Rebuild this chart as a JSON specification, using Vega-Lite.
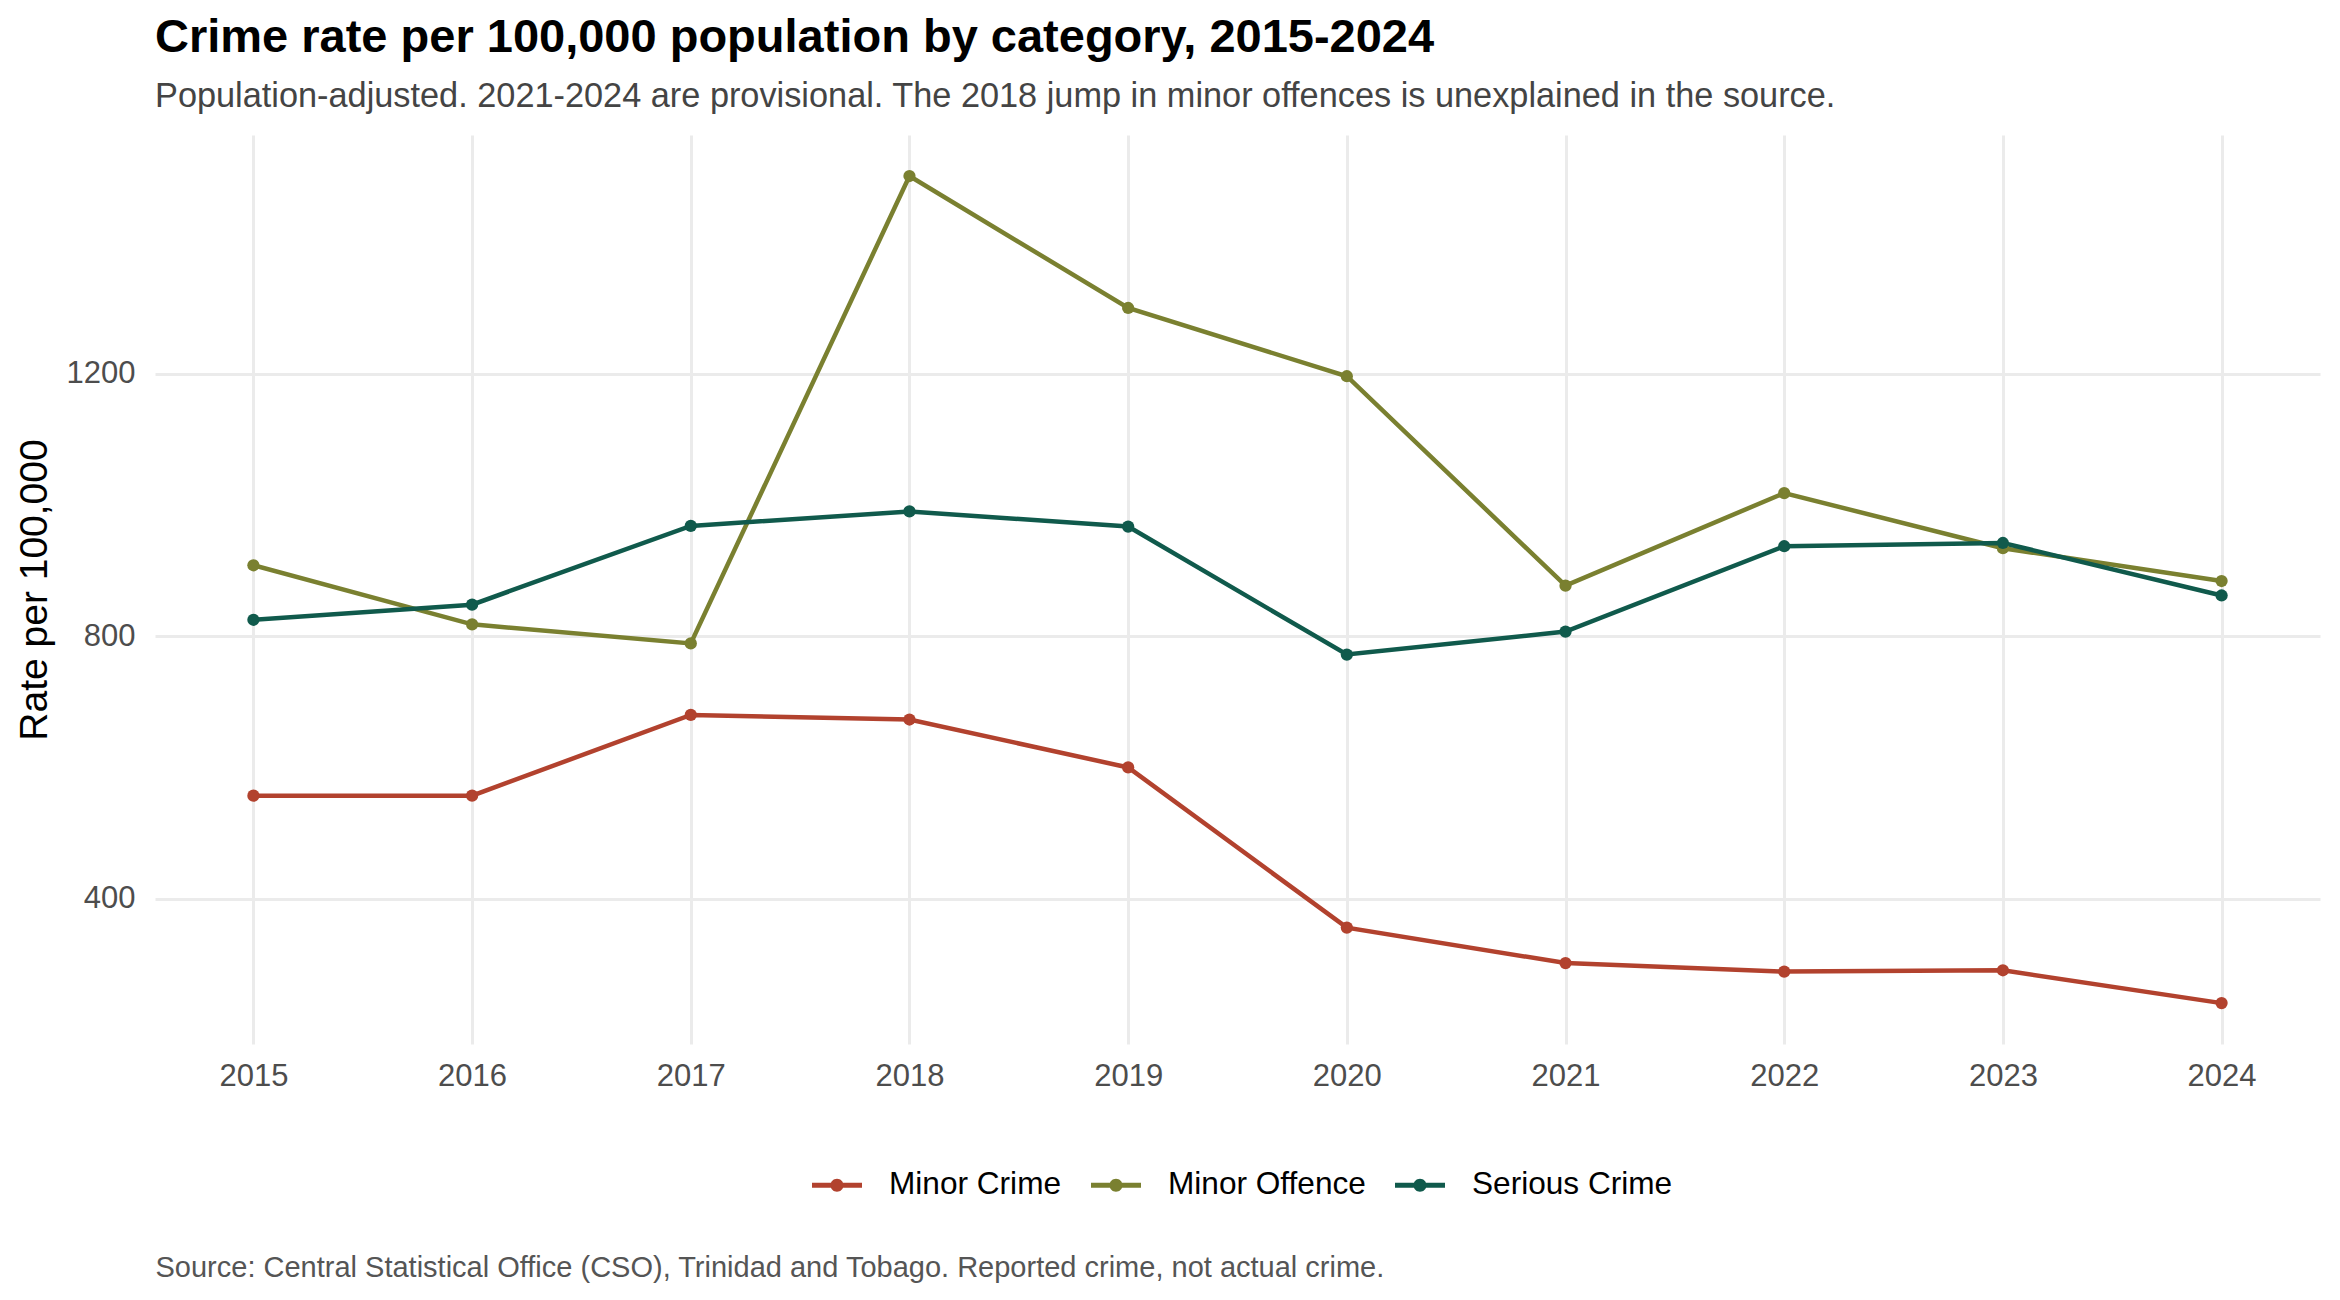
{
  "$schema": "https://vega.github.io/schema/vega-lite/v6.json",
  "width": 2165,
  "height": 909,
  "autosize": {"type": "none"},
  "padding": {"left": 155, "top": 135, "right": 20, "bottom": 256},
  "background": "white",
  "title": {
    "text": "Crime rate per 100,000 population by category, 2015-2024",
    "subtitle": "Population-adjusted. 2021-2024 are provisional. The 2018 jump in minor offences is unexplained in the source.",
    "anchor": "start",
    "frame": "group",
    "font": "Liberation Sans",
    "fontSize": 47,
    "fontWeight": "bold",
    "color": "#000000",
    "subtitleFont": "Liberation Sans",
    "subtitleFontSize": 34.3,
    "subtitleColor": "#444444",
    "subtitlePadding": 18,
    "offset": 20
  },
  "data": {
    "values": [
      {"year": 2015, "category": "Minor Crime", "rate": 557},
      {"year": 2016, "category": "Minor Crime", "rate": 557},
      {"year": 2017, "category": "Minor Crime", "rate": 680},
      {"year": 2018, "category": "Minor Crime", "rate": 673},
      {"year": 2019, "category": "Minor Crime", "rate": 600},
      {"year": 2020, "category": "Minor Crime", "rate": 356},
      {"year": 2021, "category": "Minor Crime", "rate": 302},
      {"year": 2022, "category": "Minor Crime", "rate": 289},
      {"year": 2023, "category": "Minor Crime", "rate": 291},
      {"year": 2024, "category": "Minor Crime", "rate": 241},
      {"year": 2015, "category": "Minor Offence", "rate": 908},
      {"year": 2016, "category": "Minor Offence", "rate": 818},
      {"year": 2017, "category": "Minor Offence", "rate": 789},
      {"year": 2018, "category": "Minor Offence", "rate": 1501},
      {"year": 2019, "category": "Minor Offence", "rate": 1300},
      {"year": 2020, "category": "Minor Offence", "rate": 1196},
      {"year": 2021, "category": "Minor Offence", "rate": 877},
      {"year": 2022, "category": "Minor Offence", "rate": 1018},
      {"year": 2023, "category": "Minor Offence", "rate": 934},
      {"year": 2024, "category": "Minor Offence", "rate": 884},
      {"year": 2015, "category": "Serious Crime", "rate": 825},
      {"year": 2016, "category": "Serious Crime", "rate": 848},
      {"year": 2017, "category": "Serious Crime", "rate": 968},
      {"year": 2018, "category": "Serious Crime", "rate": 990},
      {"year": 2019, "category": "Serious Crime", "rate": 967},
      {"year": 2020, "category": "Serious Crime", "rate": 772},
      {"year": 2021, "category": "Serious Crime", "rate": 807},
      {"year": 2022, "category": "Serious Crime", "rate": 937},
      {"year": 2023, "category": "Serious Crime", "rate": 942},
      {"year": 2024, "category": "Serious Crime", "rate": 862}
    ]
  },
  "encoding": {
    "x": {
      "field": "year",
      "type": "quantitative",
      "scale": {"domain": [2014.55, 2024.45], "nice": false, "zero": false},
      "axis": {
        "values": [2015, 2016, 2017, 2018, 2019, 2020, 2021, 2022, 2023, 2024],
        "format": "d",
        "labelFont": "Liberation Sans",
        "labelFontSize": 31,
        "labelColor": "#4D4D4D",
        "labelPadding": 17,
        "labelFlush": false,
        "tickSize": 0,
        "domain": false,
        "grid": true,
        "gridColor": "#EBEBEB",
        "gridWidth": 3,
        "title": "Source: Central Statistical Office (CSO), Trinidad and Tobago. Reported crime, not actual crime.",
        "titleFont": "Liberation Sans",
        "titleFontSize": 29,
        "titleFontWeight": "normal",
        "titleColor": "#555555",
        "titleAnchor": "start",
        "titleAlign": "left",
        "titleBaseline": "alphabetic",
        "titleX": 0,
        "titleY": 232
      }
    },
    "y": {
      "field": "rate",
      "type": "quantitative",
      "scale": {"domain": [178.7, 1563.5], "nice": false, "zero": false},
      "axis": {
        "values": [400, 800, 1200],
        "format": "d",
        "labelFont": "Liberation Sans",
        "labelFontSize": 31,
        "labelColor": "#4D4D4D",
        "labelPadding": 20,
        "tickSize": 0,
        "domain": false,
        "grid": true,
        "gridColor": "#EBEBEB",
        "gridWidth": 3,
        "title": "Rate per 100,000",
        "titleFont": "Liberation Sans",
        "titleFontSize": 39,
        "titleFontWeight": "normal",
        "titleColor": "#000000",
        "titlePadding": 12
      }
    },
    "color": {
      "field": "category",
      "type": "nominal",
      "scale": {
        "domain": ["Minor Crime", "Minor Offence", "Serious Crime"],
        "range": ["#B2422E", "#7A8030", "#105A4C"]
      },
      "legend": {
        "orient": "none",
        "legendX": 657,
        "legendY": 1025,
        "direction": "horizontal",
        "title": null,
        "padding": 0,
        "labelFont": "Liberation Sans",
        "labelFontSize": 31.6,
        "labelColor": "#000000",
        "labelLimit": 0,
        "labelOffset": 27,
        "columnPadding": 29,
        "symbolType": "M-1,-0.1L1,-0.1L1,0.1L-1,0.1Z M-0.26,0A0.26,0.26,0,1,1,0.26,0A0.26,0.26,0,1,1,-0.26,0Z",
        "symbolSize": 2500,
        "symbolStrokeWidth": 0,
        "encode": {
          "symbols": {
            "update": {
              "fill": {"scale": "color", "field": "value"},
              "stroke": {"value": "transparent"},
              "opacity": {"value": 1}
            }
          }
        }
      }
    }
  },
  "layer": [
    {"mark": {"type": "line", "strokeWidth": 4.5}},
    {"mark": {"type": "point", "filled": true, "size": 150, "opacity": 1}}
  ],
  "config": {
    "view": {"stroke": null}
  }
}
